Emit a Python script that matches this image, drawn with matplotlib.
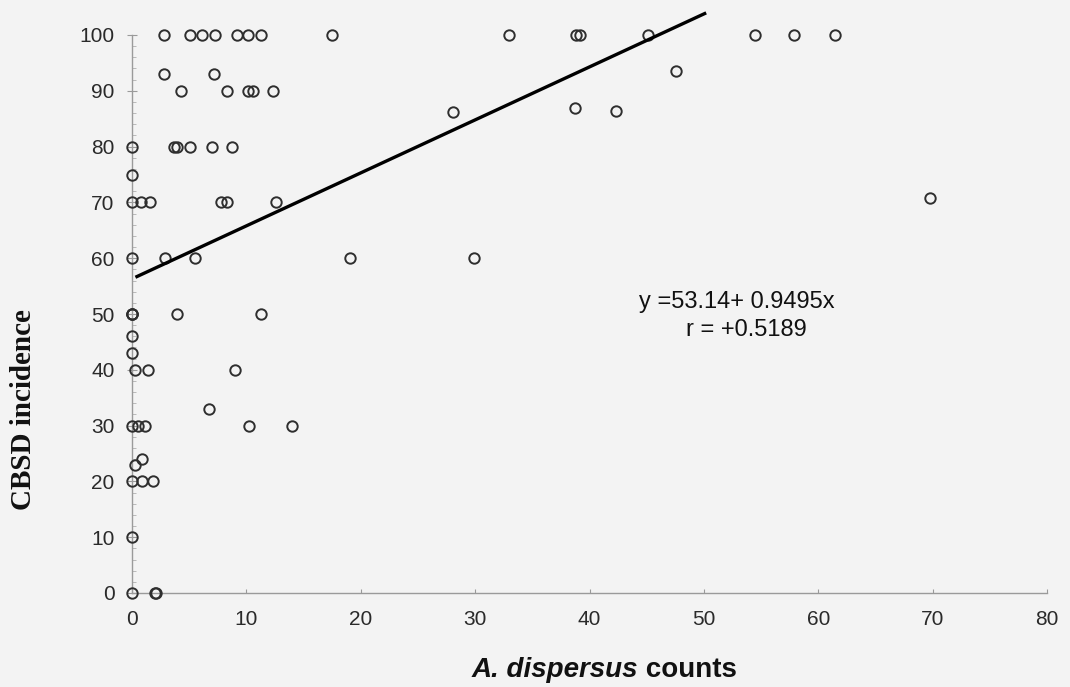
import matplotlib
matplotlib.use("Agg")
import matplotlib.pyplot as plt
import numpy as np

# Data (A. dispersus counts vs CBSD incidence)
counts = [2.8, 5.1, 6.1, 7.3, 9.2, 10.1, 11.3, 17.5, 33.0, 38.8, 39.2, 45.1, 54.5, 57.9, 61.5,
          2.8, 7.2, 47.6,
          4.3, 8.3, 10.1, 10.6, 12.3,
          38.7, 42.3, 28.1,
          0.0, 3.7, 3.9, 5.1, 7.0, 8.75,
          0.0,
          0.0, 0.8, 1.6, 7.75, 8.3, 12.6, 69.8,
          0.0, 2.9, 5.5, 19.1, 29.9,
          0.0, 0.0, 0.0, 3.9, 11.3,
          0.0, 0.0,
          0.25, 1.4, 9.0,
          6.75,
          0.0, 0.5, 1.1, 10.2, 14.0,
          0.9, 0.3,
          0.0, 0.9, 1.8,
          0.0,
          0.0, 2.0, 2.1]
incidence = [100, 100, 100, 100, 100, 100, 100, 100, 100, 100, 100, 100, 100, 100, 100,
             93, 93, 93.5,
             90, 90, 90, 90, 90,
             87, 86.4, 86.2,
             80, 80, 80, 80, 80, 80,
             75,
             70, 70, 70, 70, 70, 70, 70.8,
             60, 60, 60, 60, 60,
             50, 50, 50, 50, 50,
             46, 43,
             40, 40, 40,
             33,
             30, 30, 30, 30, 30,
             24, 23,
             20, 20, 20,
             10,
             0, 0, 0]

# Regression line as drawn in the figure
fit_x = [0.3, 50.2]
fit_intercept = 56.3
fit_slope = 0.9495
eq_text = "y =53.14+ 0.9495x"
r_text = "r = +0.5189"

x_ticks = [0, 10, 20, 30, 40, 50, 60, 70, 80]
y_ticks = [0, 10, 20, 30, 40, 50, 60, 70, 80, 90, 100]

bg = "#f3f3f3"
fig = plt.figure(figsize=(10.70, 6.87), dpi=100, facecolor=bg)
ax = fig.add_axes([132/1070, 1-593/687, (1047-132)/1070, (593-35)/687])
ax.set_facecolor(bg)

ax.plot(counts, incidence, linestyle="none", marker="o", ms=7.5, mfc="none",
        mec="#2e2e2e", mew=1.4, clip_on=False, zorder=3)

fy = [fit_intercept + fit_slope * v for v in fit_x]
ax.plot(fit_x, fy, color="black", lw=2.4, solid_capstyle="butt", clip_on=False, zorder=4)

ax.set_xlim(0, 80)
ax.set_ylim(0, 100)
ax.set_xticks(x_ticks)
ax.set_yticks(y_ticks)
ax.set_yticks(np.arange(0, 101, 2), minor=True)

for s in ["top", "right"]:
    ax.spines[s].set_visible(False)
for s in ["left", "bottom"]:
    ax.spines[s].set_color("#9a9a9a")
    ax.spines[s].set_linewidth(1.0)

ax.tick_params(axis="y", which="major", direction="inout", length=7, width=0.8,
               color="#9a9a9a", pad=9, labelcolor="#2a2a2a")
ax.tick_params(axis="y", which="minor", direction="in", length=3, width=0.6, color="#b0b0b0")
ax.tick_params(axis="x", which="major", direction="in", length=3, width=0.8,
               color="#9a9a9a", pad=12, labelcolor="#2a2a2a")
for lab in ax.get_xticklabels() + ax.get_yticklabels():
    lab.set_fontfamily("Liberation Sans")
    lab.set_fontsize(15)

ax.text(52.9, 52.2, eq_text, ha="center", va="center", fontsize=17,
        family="Liberation Sans", color="#111111")
ax.text(53.7, 47.1, r_text, ha="center", va="center", fontsize=17,
        family="Liberation Sans", color="#111111")

# Y label
fig.text(24/1070, 1-410/687, "CBSD incidence", rotation=90, ha="center", va="center",
         fontsize=21, fontweight="bold", family="Liberation Serif", color="#111111")

# X label: italic bold species name + bold "counts"
fig.canvas.draw()
r = fig.canvas.get_renderer()
ylab = 1-670/687
t1 = fig.text(0, ylab, "A. dispersus", ha="left", va="center", fontsize=20,
              fontweight="bold", style="italic", family="Liberation Sans", color="#111111")
t2 = fig.text(0, ylab, " counts", ha="left", va="center", fontsize=20,
              fontweight="bold", family="Liberation Sans", color="#111111")
w1 = t1.get_window_extent(r).width
w2 = t2.get_window_extent(r).width
cx = 604
start = cx - (w1 + w2) / 2
t1.set_x(start / 1070)
t2.set_x((start + w1) / 1070)

fig.savefig("out.png", dpi=100, facecolor=bg)
